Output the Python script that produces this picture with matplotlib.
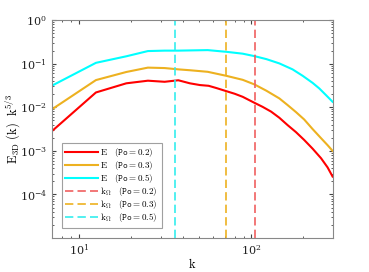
import numpy as np
import matplotlib
matplotlib.use("Agg")
import matplotlib.pyplot as plt

plt.rcParams['mathtext.fontset'] = 'cm'
plt.rcParams['font.family'] = ['DejaVu Serif']

# Data (log10 of E_3D(k) k^{5/3})
k_red = [6.28, 12.57, 18.85, 25.13, 31.42, 37.70, 43.98, 50.3, 56.5, 62.8, 71.5, 80, 89,
         104, 116, 130, 145, 162, 181, 202, 226, 253, 276, 295]
e_red_log = [-2.71, -1.66, -1.45, -1.39, -1.415, -1.38, -1.45, -1.49, -1.507, -1.56, -1.63, -1.69, -1.76,
             -1.897, -1.99, -2.10, -2.24, -2.41, -2.57, -2.75, -2.95, -3.17, -3.38, -3.59]

k_orange = [6.28, 12.57, 18.85, 25.13, 31.42, 37.70, 44, 55.8, 71.5, 89, 104, 122, 145,
            162, 181, 202, 226, 253, 276, 295]
e_orange_log = [-2.17, -1.376, -1.19, -1.09, -1.10, -1.13, -1.15, -1.186, -1.278, -1.37, -1.475, -1.62, -1.796,
                -1.95, -2.11, -2.28, -2.50, -2.71, -2.87, -3.0]

k_cyan = [6.28, 12.57, 18.85, 25.13, 31.42, 37.70, 55.8, 71.5, 89, 104, 122, 145, 173,
          198, 226, 247, 270, 295]
e_cyan_log = [-1.60, -0.98, -0.83, -0.71, -0.70, -0.70, -0.688, -0.727, -0.77, -0.826, -0.895, -0.993, -1.13,
              -1.278, -1.44, -1.567, -1.72, -1.874]

k_omega = [104.5, 71.0, 36.3]
po_labels = ['0.2', '0.3', '0.5']
colors = ['#ff0000', '#EDB120', '#00ffff']
dash_colors = ['#f06060', '#EDB120', '#33eeee']

fig = plt.figure(figsize=(3.69, 2.72), dpi=100)
ax = fig.add_axes([0.141, 0.125, 0.761, 0.801])

series = [(k_red, e_red_log), (k_orange, e_orange_log), (k_cyan, e_cyan_log)]
for (kk, ee), c, po in zip(series, colors, po_labels):
    ax.plot(kk, 10 ** np.array(ee), color=c, lw=1.5,
            label=r'$\mathrm{E}\ \ \ \mathtt{(Po=' + po + ')}$')
for kw, c, po in zip(k_omega, dash_colors, po_labels):
    ax.axvline(kw, color=c, lw=1.2, dashes=(5, 2.5),
               label=r'$\mathrm{k}_{\Omega}\ \ \ \mathtt{(Po=' + po + ')}$')

ax.set_xscale('log')
ax.set_yscale('log')
ax.set_xlim(7, 296)
ax.set_ylim(1e-5, 1)
ax.set_yticks([1e0, 1e-1, 1e-2, 1e-3, 1e-4])
ax.set_xticks([10, 100])
ax.tick_params(which='both', direction='in', top=True, right=True,
               labelsize=8, colors='#444444', length=3)
ax.tick_params(which='minor', length=1.5)
for lab in ax.get_xticklabels() + ax.get_yticklabels():
    lab.set_color('#222222')
for s in ax.spines.values():
    s.set_color('#888888')
    s.set_linewidth(0.8)

ax.set_xlabel(r'$\mathrm{k}$', fontsize=9)
ax.xaxis.set_label_coords(0.5, -0.085)
ax.set_ylabel(r'$\mathrm{E}_{\mathrm{3D}}\ \mathtt{(}\mathrm{k}\mathtt{)}\ \ \mathrm{k}^{5/3}$', fontsize=9)
ax.yaxis.set_label_coords(-0.105, 0.5)

leg = ax.legend(loc='lower left', bbox_to_anchor=(0.018, 0.025), fontsize=6.5,
                frameon=True, fancybox=False, handlelength=3.6,
                borderpad=0.4, labelspacing=0.0, handletextpad=0.3)
leg.get_frame().set_edgecolor('#888888')
leg.get_frame().set_linewidth(0.8)

fig.savefig('out.png', dpi=100)
